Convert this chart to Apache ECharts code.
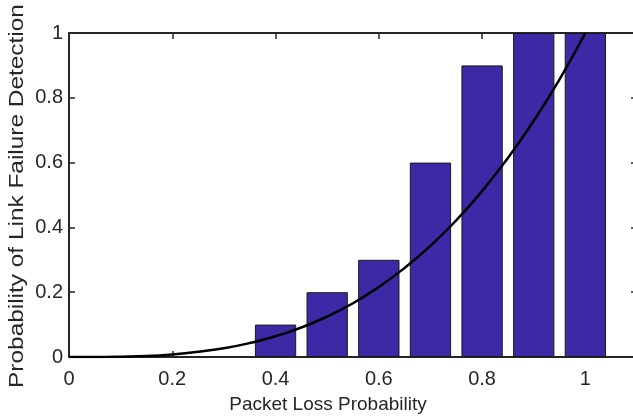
<!DOCTYPE html>
<html>
<head>
<meta charset="utf-8">
<script src="https://cdn.jsdelivr.net/npm/echarts@6/dist/echarts.min.js"></script>
<style>
  html, body { margin: 0; padding: 0; background: #fff; width: 633px; height: 420px; overflow: hidden; }
  #chart { width: 640px; height: 420px; }
</style>
</head>
<body>
<div id="chart"></div>
<script>
// Measured detection rate per packet loss probability (bars)
const lossLevels = [0.4, 0.5, 0.6, 0.7, 0.8, 0.9, 1.0];
const detectionRate = [0.1, 0.2, 0.3, 0.6, 0.9, 1.0, 1.0];

// Analytical detection probability curve
const curveX = [0, 0.05, 0.1, 0.15, 0.2, 0.25, 0.3, 0.35, 0.4, 0.45, 0.5,
                0.55, 0.6, 0.65, 0.7, 0.75, 0.8, 0.85, 0.9, 0.95, 1.0];
const curveY = [0, 0.0001, 0.001, 0.003, 0.008, 0.016, 0.027, 0.043, 0.064, 0.091, 0.125,
                0.166, 0.216, 0.275, 0.343, 0.422, 0.512, 0.614, 0.729, 0.857, 1.0];

const xTickValues = [0, 0.2, 0.4, 0.6, 0.8, 1];
const yTickValues = [0, 0.2, 0.4, 0.6, 0.8, 1];

const axisColor = '#262626';
const fontFamily = '"Liberation Sans", Arial, Helvetica, sans-serif';

const chart = echarts.init(document.getElementById('chart'), null, { renderer: 'canvas' });

const baseAxis = {
  type: 'value',
  interval: 0.2,
  axisLine: { show: true, onZero: false, lineStyle: { color: axisColor, width: 2 } },
  axisTick: { show: true, inside: true, length: 6, lineStyle: { color: axisColor, width: 1.5 } },
  splitLine: { show: false }
};

const labelFor = ticks => v => {
  const t = ticks.find(t => Math.abs(t - v) < 1e-6);
  return t === undefined ? '' : String(t);
};

chart.setOption({
  animation: false,
  backgroundColor: '#ffffff',
  // plot box runs from x=0 to x=1.1; its right edge sits just past the visible page
  grid: { left: 69, top: 33, right: 2, bottom: 63, containLabel: false },
  xAxis: [
    Object.assign({}, baseAxis, {
      position: 'bottom',
      min: 0, max: 1.1,
      axisLabel: { color: axisColor, fontSize: 20, fontFamily: fontFamily, margin: 12, formatter: labelFor(xTickValues) }
    }),
    Object.assign({}, baseAxis, {
      position: 'top',
      min: 0, max: 1.1,
      axisLabel: { show: false }
    })
  ],
  yAxis: [
    Object.assign({}, baseAxis, {
      position: 'left',
      min: 0, max: 1,
      axisLabel: { color: axisColor, fontSize: 20, fontFamily: fontFamily, margin: 6, formatter: labelFor(yTickValues) }
    }),
    Object.assign({}, baseAxis, {
      position: 'right',
      min: 0, max: 1,
      axisLabel: { show: false }
    })
  ],
  graphic: [
    {
      type: 'text',
      x: 328, y: 405,
      style: {
        text: 'Packet Loss Probability',
        fill: axisColor, fontSize: 19, fontFamily: fontFamily,
        align: 'center', verticalAlign: 'middle'
      }
    },
    {
      type: 'text',
      x: 17, y: 196,
      rotation: Math.PI / 2,
      scaleX: 1.22,
      style: {
        text: 'Probability of Link Failure Detection',
        fill: axisColor, fontSize: 20, fontFamily: fontFamily,
        align: 'center', verticalAlign: 'middle'
      }
    }
  ],
  series: [
    {
      type: 'bar',
      xAxisIndex: 0, yAxisIndex: 0,
      data: lossLevels.map((x, i) => [x, detectionRate[i]]),
      barWidth: '80%',
      itemStyle: { color: '#3c29a6', borderColor: '#1a1a1a', borderWidth: 1 },
      z: 2
    },
    {
      type: 'line',
      xAxisIndex: 0, yAxisIndex: 0,
      data: curveX.map((x, i) => [x, curveY[i]]),
      smooth: true,
      showSymbol: false,
      lineStyle: { color: '#000000', width: 2.5 },
      clip: true,
      z: 3
    }
  ]
});
</script>
</body>
</html>
